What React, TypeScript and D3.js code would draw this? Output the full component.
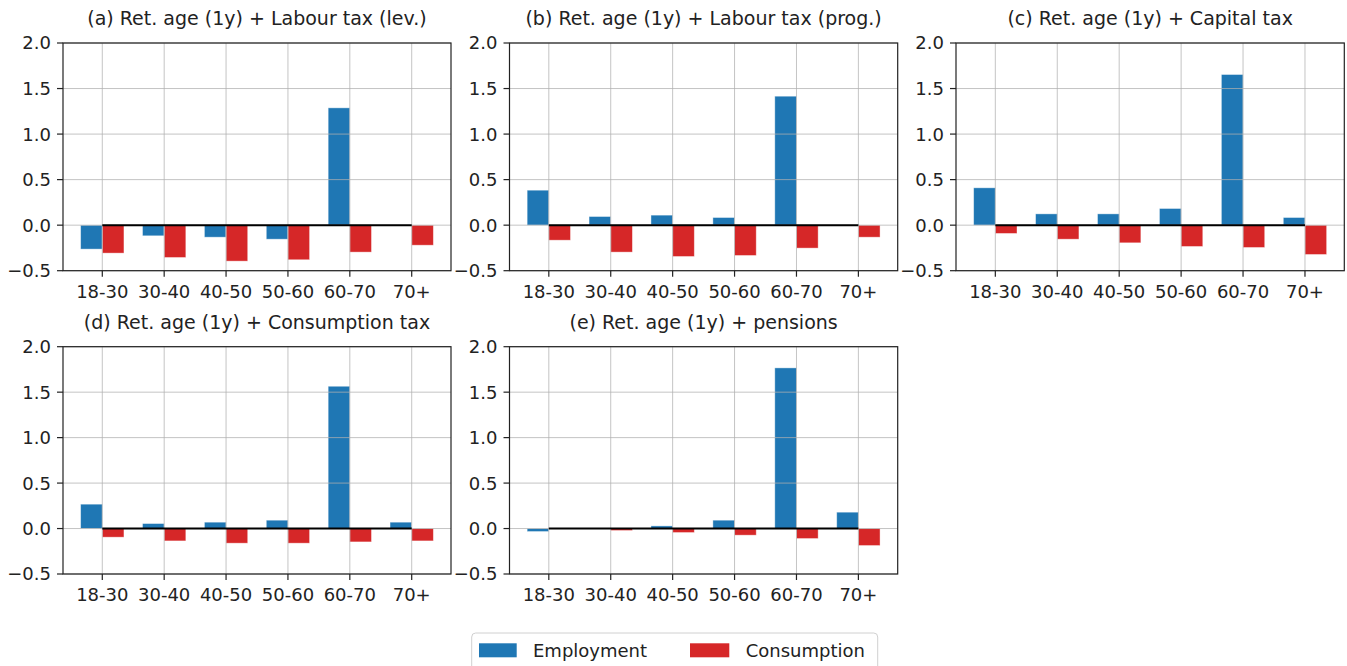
import React from "react";
import * as d3 from "d3";

const categories = ["18-30", "30-40", "40-50", "50-60", "60-70", "70+"];
const titles = [
  "(a) Ret. age (1y) + Labour tax (lev.)",
  "(b) Ret. age (1y) + Labour tax (prog.)",
  "(c) Ret. age (1y) + Capital tax",
  "(d) Ret. age (1y) + Consumption tax",
  "(e) Ret. age (1y) + pensions",
];
const employmentA = [-0.263, -0.117, -0.132, -0.154, 1.288, 0.0];
const consumptionA = [-0.307, -0.355, -0.395, -0.38, -0.296, -0.22];
const employmentB = [0.384, 0.095, 0.11, 0.084, 1.416, 0.0];
const consumptionB = [-0.165, -0.296, -0.344, -0.333, -0.252, -0.132];
const employmentC = [0.41, 0.124, 0.124, 0.183, 1.654, 0.084];
const consumptionC = [-0.091, -0.154, -0.194, -0.234, -0.245, -0.322];
const employmentD = [0.268, 0.055, 0.07, 0.092, 1.565, 0.07];
const consumptionD = [-0.095, -0.136, -0.161, -0.161, -0.147, -0.136];
const employmentE = [-0.033, 0.0, 0.029, 0.092, 1.767, 0.18];
const consumptionE = [-0.005, -0.022, -0.044, -0.073, -0.11, -0.187];
const yTicks = [-0.5, 0.0, 0.5, 1.0, 1.5, 2.0];
const seriesNames = ["Employment", "Consumption"];

const BLUE = "#1f77b4";
const RED = "#d62728";
const FONT = "DejaVu Sans, sans-serif";

const panels = [
  { title: titles[0], emp: employmentA, con: consumptionA, left: 63, right: 451, top: 43, bottom: 270.7 },
  { title: titles[1], emp: employmentB, con: consumptionB, left: 509.5, right: 897.7, top: 43, bottom: 270.7 },
  { title: titles[2], emp: employmentC, con: consumptionC, left: 956, right: 1344.3, top: 43, bottom: 270.7 },
  { title: titles[3], emp: employmentD, con: consumptionD, left: 63, right: 451, top: 346.7, bottom: 574 },
  { title: titles[4], emp: employmentE, con: consumptionE, left: 509.5, right: 897.7, top: 346.7, bottom: 574 },
];

const W = 0.35;

function Panel({ p }: { p: any }) {
  const x = d3.scaleLinear().domain([-0.635, 5.635]).range([p.left, p.right]);
  const y = d3.scaleLinear().domain([-0.5, 2.0]).range([p.bottom, p.top]);
  const idx = d3.range(categories.length);
  const fmt = d3.format(".1f");
  const fmtTick = (v: number) => (v < 0 ? "\u2212" + fmt(-v) : fmt(v));
  return (
    <g>
      {idx.map((i) => {
        const v = p.emp[i];
        return (
          <rect key={"e" + i} x={x(i - W)} width={x(W) - x(0)} y={y(Math.max(0, v))}
            height={Math.abs(y(v) - y(0))} fill={BLUE} stroke="#ffffff" strokeOpacity={0.5} strokeWidth={0.8} />
        );
      })}
      {idx.map((i) => {
        const v = p.con[i];
        return (
          <rect key={"c" + i} x={x(i)} width={x(W) - x(0)} y={y(Math.max(0, v))}
            height={Math.abs(y(v) - y(0))} fill={RED} stroke="#ffffff" strokeOpacity={0.5} strokeWidth={0.8} />
        );
      })}
      {/* grid */}
      {yTicks.map((t) => (
        <line key={"gy" + t} x1={p.left} x2={p.right} y1={y(t)} y2={y(t)} stroke="#b0b0b0" strokeOpacity={0.75} strokeWidth={1} />
      ))}
      {idx.map((i) => (
        <line key={"gx" + i} x1={x(i)} x2={x(i)} y1={p.top} y2={p.bottom} stroke="#b0b0b0" strokeOpacity={0.75} strokeWidth={1} />
      ))}
      {/* zero line */}
      <line x1={x(0)} x2={x(5)} y1={y(0)} y2={y(0)} stroke="#000" strokeWidth={2} />
      {/* spines */}
      <rect x={p.left} y={p.top} width={p.right - p.left} height={p.bottom - p.top} fill="none" stroke="#222" strokeWidth={1.2} />
      {/* y ticks */}
      {yTicks.map((t) => (
        <g key={"ty" + t}>
          <line x1={p.left - 6} x2={p.left} y1={y(t)} y2={y(t)} stroke="#222" strokeWidth={1.2} />
          <text x={p.left - 12} y={y(t)} dy="0.36em" textAnchor="end" fontSize={18} fontFamily={FONT} fill="#222">
            {fmtTick(t)}
          </text>
        </g>
      ))}
      {/* x ticks */}
      {idx.map((i) => (
        <g key={"tx" + i}>
          <line x1={x(i)} x2={x(i)} y1={p.bottom} y2={p.bottom + 6} stroke="#222" strokeWidth={1.2} />
          <text x={x(i)} y={p.bottom + 27} textAnchor="middle" fontSize={18} fontFamily={FONT} fill="#222">
            {categories[i]}
          </text>
        </g>
      ))}
      <text x={(p.left + p.right) / 2} y={p.top - 18} textAnchor="middle" fontSize={19} fontFamily={FONT} fill="#222">
        {p.title}
      </text>
    </g>
  );
}

export default function App() {
  return (
    <svg width={1347} height={666} style={{ position: "absolute", left: 0, top: 0, background: "#fff" }}>
      <rect x={0} y={0} width={1347} height={666} fill="#fff" />
      {panels.map((p, k) => (
        <Panel key={k} p={p} />
      ))}
      <g>
        <rect x={471.7} y={633} width={406} height={44} rx={4} fill="#fff" stroke="#d0d0d0" strokeWidth={1} />
        <rect x={479} y={643.3} width={37.7} height={14} fill={BLUE} />
        <text x={533} y={650.3} dy="0.36em" fontSize={18} fontFamily={FONT} fill="#222">{seriesNames[0]}</text>
        <rect x={690} y={643.3} width={39.3} height={14} fill={RED} />
        <text x={745.7} y={650.3} dy="0.36em" fontSize={18} fontFamily={FONT} fill="#222">{seriesNames[1]}</text>
      </g>
    </svg>
  );
}
